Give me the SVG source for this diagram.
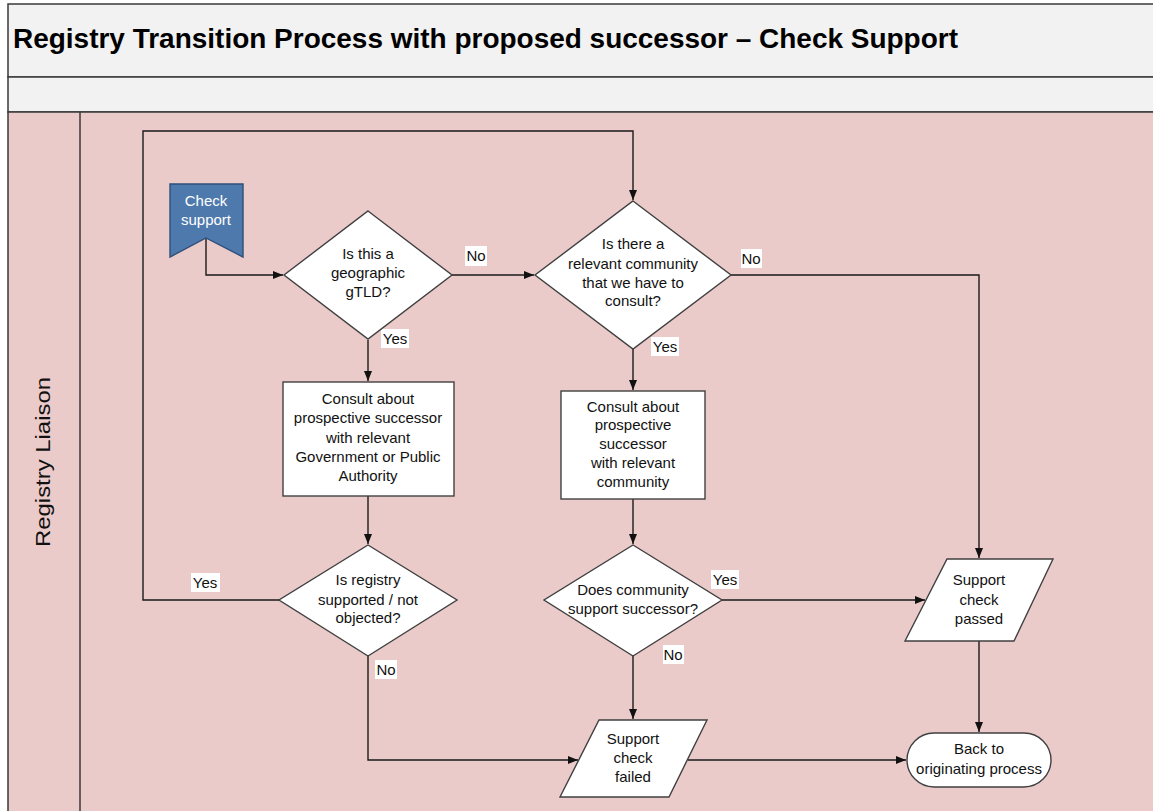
<svg xmlns="http://www.w3.org/2000/svg" width="1153" height="811" viewBox="0 0 1153 811">
<defs>
<style>
.frame{stroke:#3a3a3a;stroke-width:1.5}
.shape{fill:#ffffff;stroke:#404040;stroke-width:1.4}
.t{font-family:"Liberation Sans",Arial,sans-serif;font-size:15px;fill:#111;text-anchor:middle}
.lbl{fill:#ffffff}
.conn{fill:none;stroke:#1a1a1a;stroke-width:1.4}
</style>
<marker id="arr" viewBox="0 0 10 10" refX="10" refY="5" markerWidth="10" markerHeight="10" markerUnits="userSpaceOnUse" orient="auto">
<path d="M0,1 L10,5 L0,9 z" fill="#111"/>
</marker>
</defs>
<rect width="1153" height="811" fill="#ffffff"/>
<g id="pool">
<rect class="frame" x="8" y="4" width="1150" height="73" fill="#f2f2f2"/>
<rect class="frame" x="8" y="77" width="1150" height="35" fill="#f2f2f2"/>
<rect class="frame" x="8" y="112" width="1150" height="705" fill="#ebcbca"/>
<line class="frame" x1="80" y1="112" x2="80" y2="811"/>
<text x="13" y="48" font-family="'Liberation Sans',Arial,sans-serif" font-size="27" font-weight="bold" fill="#000" textLength="945" lengthAdjust="spacingAndGlyphs">Registry Transition Process with proposed successor – Check Support</text>
<text transform="translate(50,462) rotate(-90)" font-family="'Liberation Sans',Arial,sans-serif" font-size="21" fill="#111" text-anchor="middle" textLength="170" lengthAdjust="spacingAndGlyphs">Registry Liaison</text>
</g>
<g id="connectors">
<polyline class="conn" points="206,238 206,275 283,275" marker-end="url(#arr)"/>
<polyline class="conn" points="452,275 534,275" marker-end="url(#arr)"/>
<polyline class="conn" points="731,275 979,275 979,558" marker-end="url(#arr)"/>
<polyline class="conn" points="368,340 368,381" marker-end="url(#arr)"/>
<polyline class="conn" points="368,496 368,544" marker-end="url(#arr)"/>
<polyline class="conn" points="279,600 143,600 143,131 633,131 633,200" marker-end="url(#arr)"/>
<polyline class="conn" points="368,656 368,760 578,760" marker-end="url(#arr)"/>
<polyline class="conn" points="633,349 633,390" marker-end="url(#arr)"/>
<polyline class="conn" points="633,499 633,544" marker-end="url(#arr)"/>
<polyline class="conn" points="722,600 925,600" marker-end="url(#arr)"/>
<polyline class="conn" points="633,656 633,719" marker-end="url(#arr)"/>
<polyline class="conn" points="688,760 906,760" marker-end="url(#arr)"/>
<polyline class="conn" points="979,641 979,732" marker-end="url(#arr)"/>
<g id="labels">
<rect class="lbl" x="465" y="246" width="22" height="20"/><text class="t" x="476" y="261">No</text>
<rect class="lbl" x="381" y="329" width="28" height="19"/><text class="t" x="395" y="344">Yes</text>
<rect class="lbl" x="741" y="249" width="21" height="19"/><text class="t" x="751" y="264">No</text>
<rect class="lbl" x="651" y="337" width="28" height="19"/><text class="t" x="665" y="352">Yes</text>
<rect class="lbl" x="191" y="573" width="29" height="19"/><text class="t" x="205" y="588">Yes</text>
<rect class="lbl" x="375" y="660" width="22" height="19"/><text class="t" x="386" y="675">No</text>
<rect class="lbl" x="711" y="570" width="28" height="19"/><text class="t" x="725" y="585">Yes</text>
<rect class="lbl" x="663" y="645" width="21" height="19"/><text class="t" x="673" y="660">No</text>
</g>
</g>
<g id="start">
<path d="M170,184 L243,184 L243,257 L206,238 L170,257 Z" fill="#4e79ad" stroke="#2f4f78" stroke-width="1.4"/>
<text class="t" x="206" y="206" style="fill:#fff">Check</text>
<text class="t" x="206" y="225" style="fill:#fff">support</text>
</g>
<g id="d1">
<path class="shape" d="M368,211 L452,275 L368,339 L284,275 Z"/>
<text class="t" x="368" y="259">Is this a</text>
<text class="t" x="368" y="278">geographic</text>
<text class="t" x="368" y="297">gTLD?</text>
</g>
<g id="d2">
<path class="shape" d="M633,201 L731,275 L633,349 L535,275 Z"/>
<text class="t" x="633" y="249">Is there a</text>
<text class="t" x="633" y="269">relevant community</text>
<text class="t" x="633" y="288">that we have to</text>
<text class="t" x="633" y="306">consult?</text>
</g>
<g id="b1">
<rect class="shape" x="283" y="382" width="171" height="114"/>
<text class="t" x="368" y="404">Consult about</text>
<text class="t" x="368" y="423">prospective successor</text>
<text class="t" x="368" y="443">with relevant</text>
<text class="t" x="368" y="462">Government or Public</text>
<text class="t" x="368" y="481">Authority</text>
</g>
<g id="b2">
<rect class="shape" x="561" y="391" width="144" height="108"/>
<text class="t" x="633" y="412">Consult about</text>
<text class="t" x="633" y="430">prospective</text>
<text class="t" x="633" y="449">successor</text>
<text class="t" x="633" y="468">with relevant</text>
<text class="t" x="633" y="487">community</text>
</g>
<g id="d3">
<path class="shape" d="M368,545 L457,600 L368,656 L279,600 Z"/>
<text class="t" x="368" y="585">Is registry</text>
<text class="t" x="368" y="605">supported / not</text>
<text class="t" x="368" y="623">objected?</text>
</g>
<g id="d4">
<path class="shape" d="M633,545 L722,600 L633,656 L544,600 Z"/>
<text class="t" x="633" y="595">Does community</text>
<text class="t" x="633" y="614">support successor?</text>
</g>
<g id="passed">
<path class="shape" d="M947,559 L1053,559 L1014,641 L905,641 Z"/>
<text class="t" x="979" y="585">Support</text>
<text class="t" x="979" y="605">check</text>
<text class="t" x="979" y="624">passed</text>
</g>
<g id="failed">
<path class="shape" d="M599,720 L707,720 L669,797 L560,797 Z"/>
<text class="t" x="633" y="744">Support</text>
<text class="t" x="633" y="763">check</text>
<text class="t" x="633" y="782">failed</text>
</g>
<g id="back">
<rect class="shape" x="907" y="733" width="144" height="54" rx="27" ry="27"/>
<text class="t" x="979" y="754">Back to</text>
<text class="t" x="979" y="774">originating process</text>
</g>
</svg>
